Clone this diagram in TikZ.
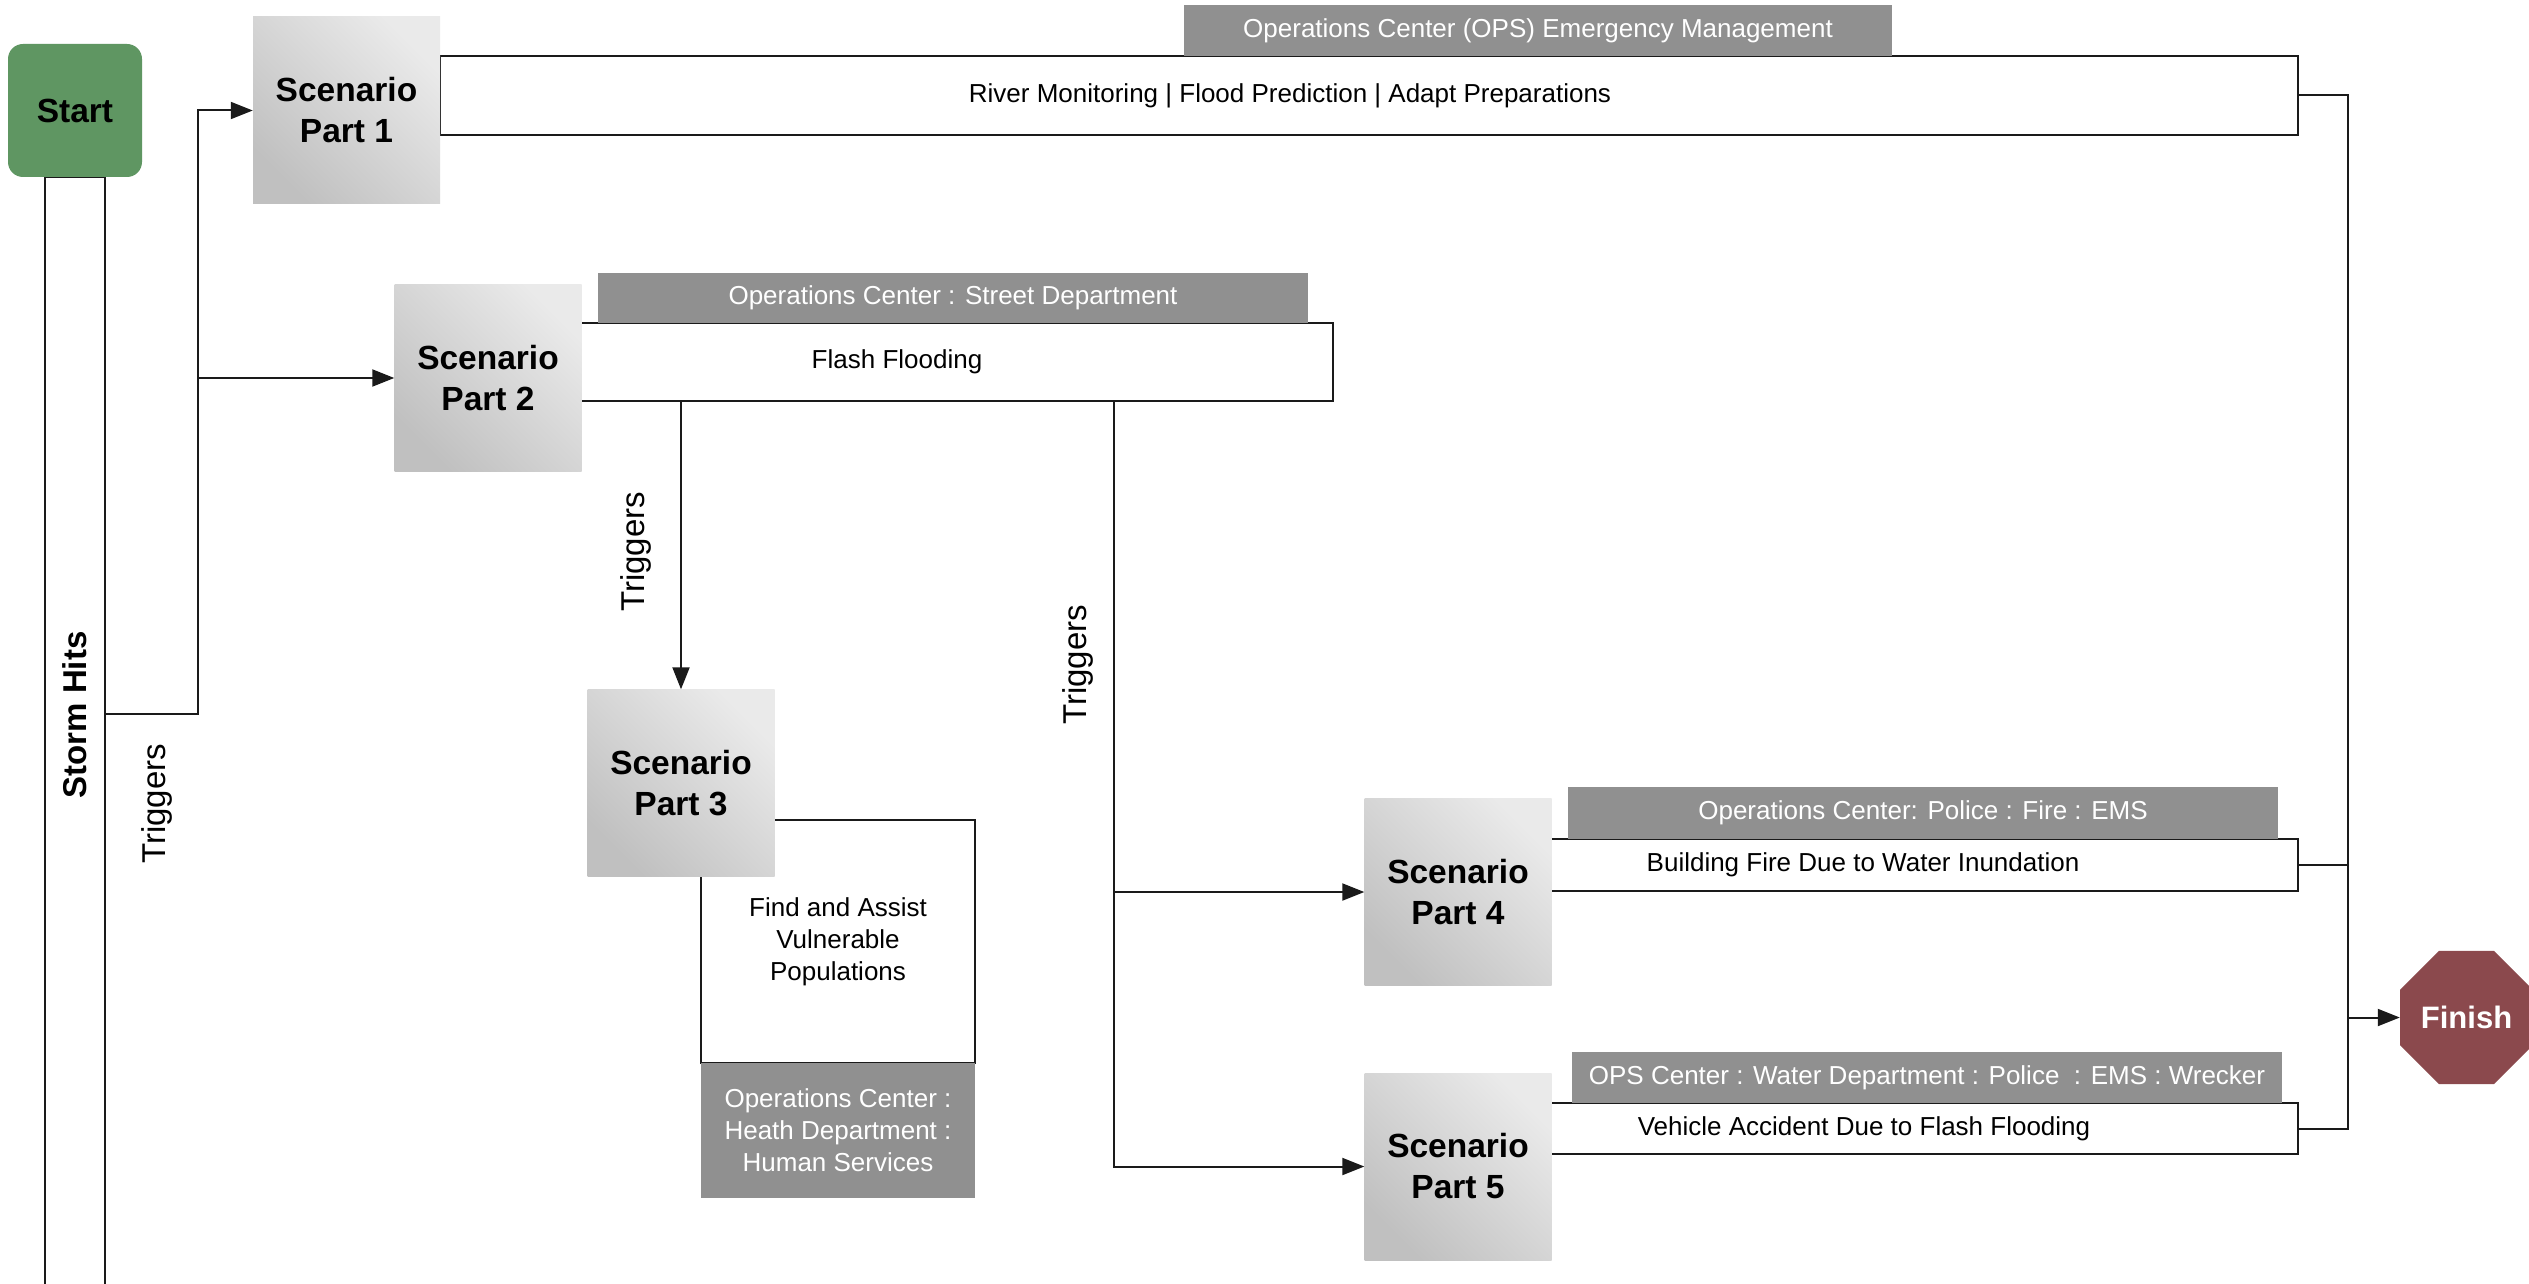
\documentclass[tikz,border=0pt]{standalone}
\usepackage{fontspec}
\setmainfont{Liberation Sans}
\usetikzlibrary{arrows.meta,shapes.geometric}
\definecolor{startgreen}{HTML}{5F9662}
\definecolor{finishred}{HTML}{8B494D}
\definecolor{hdrgray}{HTML}{909090}
\definecolor{scenlight}{HTML}{EAEAEA}
\definecolor{scendark}{HTML}{C0C0C0}
\definecolor{linec}{HTML}{1A1A1A}
\begin{document}
\begin{tikzpicture}[x=1pt,y=-1pt,
  ln/.style={draw=linec,line width=2pt},
  arr/.style={ln,-{Triangle[length=22pt,width=17pt]}},
  scen/.style={top color=scenlight,bottom color=scendark,shading angle=-45,
    minimum width=187pt,minimum height=187pt,inner sep=0pt,align=center,
    font=\fontsize{33.5}{41}\selectfont\bfseries},
  hdr/.style={fill=hdrgray,text=white,inner sep=0pt,align=center,
    font=\fontsize{26}{32}\selectfont},
  tbox/.style={ln,fill=white,inner sep=0pt},
  txt/.style={inner sep=0pt,align=center,font=\fontsize{26}{32}\selectfont},
  trig/.style={inner sep=0pt,rotate=90,font=\fontsize{33}{40}\selectfont},
]
\useasboundingbox (0,0) rectangle (2529,1284);
\clip (0,0) rectangle (2529,1284);
\fill[white] (0,0) rectangle (2529,1284);

% start and storm bar
\node[ln,minimum width=60pt,minimum height=1123pt,inner sep=0pt] (storm) at (75,738.5) {};
\node[fill=startgreen,rounded corners=15pt,minimum width=134pt,minimum height=133pt,inner sep=0pt,
  font=\fontsize{33.5}{40}\selectfont\bfseries] (start) at (75,110.5) {Start};
\node[inner sep=0pt,rotate=90,font=\fontsize{33}{40}\selectfont\bfseries] (stormlbl) at (75,715) {Storm Hits};

% text boxes
\node[tbox,minimum width=1858pt,minimum height=79pt] (box1) at (1369,95.5) {};
\node[tbox,minimum width=752pt,minimum height=78pt] (box2) at (957,362) {};
\node[tbox,minimum width=274pt,minimum height=243pt] (box3) at (838,941.5) {};
\node[tbox,minimum width=747pt,minimum height=52pt] (box4) at (1924.5,865) {};
\node[tbox,minimum width=747pt,minimum height=51pt] (box5) at (1924.5,1128.5) {};

% headers
\node[hdr,minimum width=708pt,minimum height=51pt] (h1) at (1538,30.5) {Operations Center (OPS) Emergency Management};
\node[hdr,minimum width=710pt,minimum height=50pt] (h2) at (953,298) {Operations Center : Street Department};
\node[hdr,minimum width=274pt,minimum height=135pt] (h3) at (838,1130.5) {Operations Center :\\Heath Department :\\Human Services};
\node[hdr,minimum width=710pt,minimum height=52pt] (h4) at (1923,812.5) {Operations Center: Police : Fire : EMS};
\node[hdr,minimum width=710pt,minimum height=51pt] (h5) at (1927,1077.5) {OPS Center : Water Department : Police \ : EMS : Wrecker};

% box texts
\node[txt] (t1) at (1290,95.5) {River Monitoring | Flood Prediction | Adapt Preparations};
\node[txt] (t2) at (897,362) {Flash Flooding};
\node[txt] (t3) at (838,942) {Find and Assist\\Vulnerable\\Populations};
\node[txt] (t4) at (1863,865) {Building Fire Due to Water Inundation};
\node[txt] (t5) at (1864,1128.5) {Vehicle Accident Due to Flash Flooding};

% scenarios
\node[scen] (s1) at (346.5,110.5) {Scenario\\Part 1};
\node[scen] (s2) at (488,378) {Scenario\\Part 2};
\node[scen] (s3) at (681,783) {Scenario\\Part 3};
\node[scen] (s4) at (1458,892) {Scenario\\Part 4};
\node[scen] (s5) at (1458,1166.5) {Scenario\\Part 5};

% finish
\node[regular polygon,regular polygon sides=8,minimum size=144pt,inner sep=0pt,fill=finishred,
  text=white,font=\fontsize{31}{38}\selectfont\bfseries] (finish) at (2466.5,1017.5) {Finish};

% triggers labels
\node[trig] (tr1) at (157,804) {Triggers};
\node[trig] (tr2) at (636,552) {Triggers};
\node[trig] (tr3) at (1078,665) {Triggers};

% connectors
\coordinate (j1) at (198,714);
\coordinate (j2) at (1114,401);
\coordinate (j3) at (2348,95.5);
\draw[arr] (storm.east |- j1) -- (j1) |- (s1.west);
\draw[arr] (j1 |- s2.west) -- (s2.west);
\draw[arr] (box2.south -| s3.north) -- (s3.north);
\draw[arr] (j2 |- box2.south) |- (s5.west);
\draw[arr] (j2 |- s4.west) -- (s4.west);
\draw[ln] (box1.east) -- (j3) -- (j3 |- box5.east) -- (box5.east);
\draw[ln] (box4.east) -- (j3 |- box4.east);
\draw[arr] (j3 |- finish.west) -- (finish.west);
\end{tikzpicture}
\end{document}
